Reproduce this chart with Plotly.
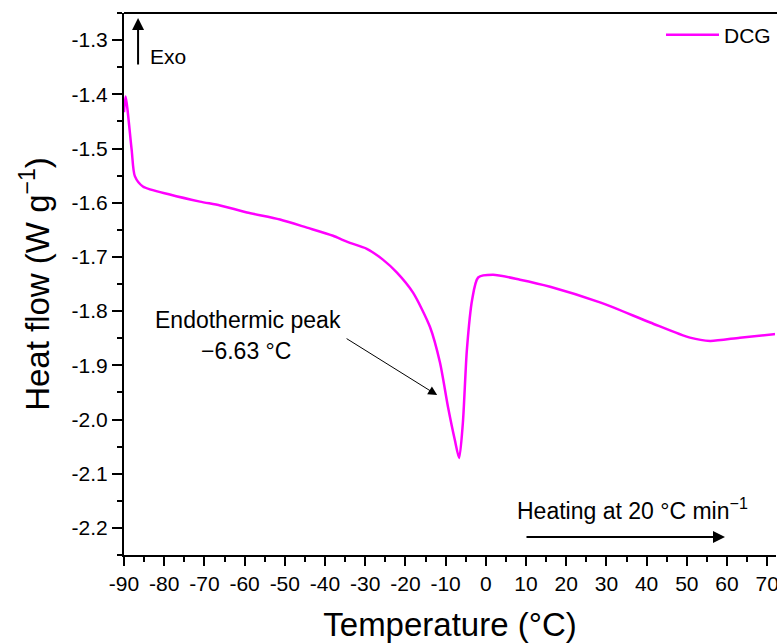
import plotly.graph_objects as go

# ---- data ----
temperature = [-90.0, -89.6, -88.1, -87.3, -85.3, -78.6, -71.1, -66.1, -59.4, -51.2,
               -44.5, -38.0, -35.5, -33.8, -29.6, -25.6, -22.1, -18.1, -13.9, -11.4,
               -9.4, -7.7, -6.63, -5.7, -4.7, -3.4, -1.9, 1.8, 8.5, 16.0,
               28.4, 40.9, 50.8, 55.8, 63.2, 72.5]
heat_flow = [-1.433, -1.404, -1.502, -1.551, -1.570, -1.585, -1.598, -1.605, -1.618, -1.631,
             -1.646, -1.661, -1.669, -1.674, -1.685, -1.705, -1.729, -1.766, -1.829, -1.895,
             -1.977, -2.038, -2.071, -2.006, -1.871, -1.779, -1.738, -1.733, -1.742, -1.755,
             -1.784, -1.821, -1.849, -1.855, -1.849, -1.842]

x_tick_vals = [-90, -80, -70, -60, -50, -40, -30, -20, -10, 0, 10, 20, 30, 40, 50, 60, 70]
x_tick_text = ["-90", "-80", "-70", "-60", "-50", "-40", "-30", "-20", "-10", "0",
               "10", "20", "30", "40", "50", "60", "70"]
y_tick_vals = [-1.3, -1.4, -1.5, -1.6, -1.7, -1.8, -1.9, -2.0, -2.1, -2.2]
y_tick_text = ["-1.3", "-1.4", "-1.5", "-1.6", "-1.7", "-1.8", "-1.9", "-2.0", "-2.1", "-2.2"]

x_range = [-90, 72.19]
y_range = [-2.25, -1.25]

FONT = "Liberation Sans, Arial, sans-serif"

fig = go.Figure()
fig.add_trace(go.Scatter(
    x=temperature, y=heat_flow, mode="lines", name="DCG",
    line=dict(color="#FF00FF", width=2.5, shape="spline", smoothing=0.7),
))

fig.update_layout(
    width=777, height=643,
    margin=dict(l=124, r=1, t=13, b=88),
    paper_bgcolor="white", plot_bgcolor="white",
    font=dict(family=FONT, size=21, color="black"),
    showlegend=True,
    legend=dict(x=1.0, y=0.997, xanchor="right", yanchor="top",
                bgcolor="rgba(0,0,0,0)", font=dict(size=21),
                itemwidth=53, tracegroupgap=0),
    xaxis=dict(
        range=x_range, tickmode="array", tickvals=x_tick_vals, ticktext=x_tick_text,
        showline=True, linecolor="black", linewidth=2, mirror=False,
        ticks="outside", ticklen=9, tickwidth=2, tickcolor="black",
        ticklabeloverflow="allow",
        minor=dict(tickvals=[v + 5 for v in x_tick_vals[:-1]], ticks="outside",
                   ticklen=5, tickwidth=2, tickcolor="black", showgrid=False),
        showgrid=False, zeroline=False,
        tickfont=dict(size=21),
        title=dict(text="Temperature (°C)", font=dict(size=33), standoff=21),
        automargin=False,
    ),
    yaxis=dict(
        range=y_range, tickmode="array", tickvals=y_tick_vals, ticktext=y_tick_text,
        showline=True, linecolor="black", linewidth=2, mirror=False,
        ticks="outside", ticklen=10, tickwidth=2, tickcolor="black",
        minor=dict(tickvals=[round(v - 0.05, 2) for v in y_tick_vals] + [-1.25],
                   ticks="outside", ticklen=5, tickwidth=2, tickcolor="black",
                   showgrid=False),
        showgrid=False, zeroline=False,
        tickfont=dict(size=21),
        title=dict(text="Heat flow (W g<sup>−1</sup>)", font=dict(size=33), standoff=12),
        automargin=False,
    ),
)

# cover any edge artefact on the open right side of the frame
fig.add_shape(type="line", xref="paper", yref="paper", x0=1.0015, x1=1.0015,
              y0=0.004, y1=0.996, layer="above", line=dict(color="white", width=4))

# top frame line
fig.add_shape(type="line", xref="paper", yref="paper", x0=0, x1=1.01, y0=1, y1=1,
              layer="above", line=dict(color="black", width=2))

# Exo arrow and label
fig.add_annotation(x=-86.5, y=-1.259, ax=-86.5, ay=-1.348, xref="x", yref="y",
                   axref="x", ayref="y", text="", showarrow=True,
                   arrowhead=2, arrowsize=1.2, arrowwidth=2, arrowcolor="black")
fig.add_annotation(x=-79.0, y=-1.330, xref="x", yref="y", text="Exo",
                   showarrow=False, font=dict(size=21))

# Endothermic peak annotation
fig.add_annotation(x=-12.1, y=-1.955, ax=-35.0, ay=-1.849, xref="x", yref="y",
                   axref="x", ayref="y", text="", showarrow=True,
                   arrowhead=2, arrowsize=1.8, arrowwidth=1, arrowcolor="black")
fig.add_annotation(x=-59.2, y=-1.816, xref="x", yref="y", text="Endothermic peak",
                   showarrow=False, font=dict(size=23))
fig.add_annotation(x=-59.7, y=-1.873, xref="x", yref="y", text="−6.63 °C",
                   showarrow=False, font=dict(size=23))

# Heating arrow and label
fig.add_annotation(x=59.5, y=-2.217, ax=9.75, ay=-2.217, xref="x", yref="y",
                   axref="x", ayref="y", text="", showarrow=True,
                   arrowhead=2, arrowsize=1.2, arrowwidth=2, arrowcolor="black")
fig.add_annotation(x=36.6, y=-2.166, xref="x", yref="y",
                   text="Heating at 20 °C min<sup>−1</sup>",
                   showarrow=False, font=dict(size=23))

fig.write_html("out.html")
